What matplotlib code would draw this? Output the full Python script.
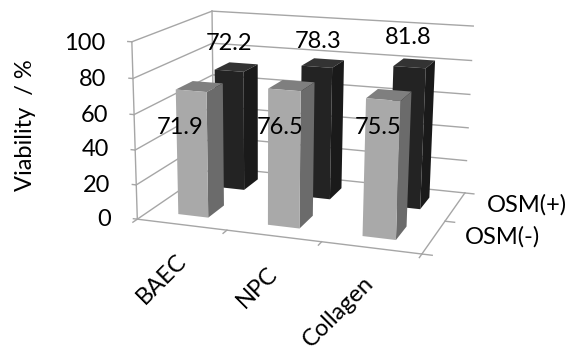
import matplotlib
matplotlib.use("Agg")
import matplotlib.pyplot as plt
import numpy as np

plt.rcParams['font.family'] = ['Lato', 'DejaVu Sans']

categories = ['BAEC', 'NPC', 'Collagen']
series = ['OSM(-)', 'OSM(+)']
osm_minus = [71.9, 76.5, 75.5]
osm_plus = [72.2, 78.3, 81.8]
yticks = [0, 20, 40, 60, 80, 100]

W, H = 569, 349
# chart-box corners (category, series, value) and where they fall on the canvas, top-left origin
box_pts = [(0, 0, 0), (0, 0, 100), (0, 2, 100), (0, 2, 0), (3, 2, 0), (3, 2, 100), (3, 0, 0)]
px_pts = [(138, 219), (131, 42), (213, 11), (213, 167), (465, 193), (473, 26), (422, 254)]

A = []
b = []
for (x, y, z), (u, v) in zip(box_pts, px_pts):
    A.append([x, y, z, 1, 0, 0, 0, 0, -u * x, -u * y, -u * z]); b.append(u)
    A.append([0, 0, 0, 0, x, y, z, 1, -v * x, -v * y, -v * z]); b.append(v)
h = np.linalg.lstsq(np.array(A, float), np.array(b, float), rcond=None)[0]
M = np.array([[h[0], h[1], h[2], h[3]],
              [h[4], h[5], h[6], h[7]],
              [0, 1, 0, 0.01],
              [h[8], h[9], h[10], 1.0]])

fig = plt.figure(figsize=(W / 100, H / 100), dpi=100)
ax = fig.add_axes([0, -110 / H, 1, W / H], projection='3d')
ax.set_axis_off()
ax.set_proj_type('ortho')
ax.set_xlim(0, 3); ax.set_ylim(0, 2); ax.set_zlim(0, 100)
ax.computed_zorder = False
ax.get_proj = lambda: M

grid = '#a6a6a6'
lw = 1.0
kw = dict(color=grid, lw=lw, zorder=1)
for t in yticks:
    ax.plot([0, 3], [2, 2], [t, t], **kw)
    ax.plot([0, 0], [0, 2], [t, t], **kw)
    ax.plot([0, -0.045], [0, -0.0], [t, t], **kw)
ax.plot([0, 3], [0, 0], [0, 0], **kw)
ax.plot([3, 3], [0, 2], [0, 0], **kw)
ax.plot([0, 0], [0, 0], [0, 100], **kw)
ax.plot([0, 0], [2, 2], [0, 100], **kw)
for i in range(4):
    ax.plot([i, i], [0, -0.1], [0, 0], **kw)
for j in range(3):
    ax.plot([3, 3.1], [j, j], [0, 0], **kw)

bar_w, bar_d = 0.34, 0.42
hidden = (0, 0, 0, 0)
# faces: bottom, top, front, back, left, right
dark = [hidden, '#333333', '#232323', hidden, hidden, '#1a1a1a']
light = [hidden, '#7f7f7f', '#a9a9a9', hidden, hidden, '#6b6b6b']
for row, vals, cols, zo in [(1, osm_plus, dark, 2), (0, osm_minus, light, 3)]:
    for i, v in enumerate(vals):
        bars = ax.bar3d(i + 0.33, row + 0.29, 0, bar_w, bar_d, v, color=cols, shade=False, zorder=zo + 0.1 * i)
        bars.set_edgecolor('none')

ax.viewLim.intervalx = (0, W)
ax.viewLim.intervaly = (H + 110, -110)


def put(x, y, s, **k):
    k.setdefault('fontsize', 17)
    k.setdefault('ha', 'center')
    k.setdefault('va', 'center')
    fig.text(x / W, 1 - y / H, s, **k)


tick_xy = [(111, 219), (110, 185), (109, 150), (108, 115), (106, 79), (105, 43)]
for t, (x, y) in zip(yticks, tick_xy):
    put(x, y, str(t), ha='right')
put(25, 125, 'Viability  / %', rotation=90)

label_xy = [(180, 128), (280, 128), (378, 128), (229, 43), (318, 42), (408, 37)]
for v, (x, y) in zip(osm_minus + osm_plus, label_xy):
    put(x, y, f'{v}')

cat_xy = [(162, 279), (257, 287), (338, 312)]
for c, (x, y) in zip(categories, cat_xy):
    put(x, y, c, rotation=45, rotation_mode='anchor')
put(502, 237, series[0])
put(527, 205, series[1])

fig.savefig('out.png', dpi=100)
